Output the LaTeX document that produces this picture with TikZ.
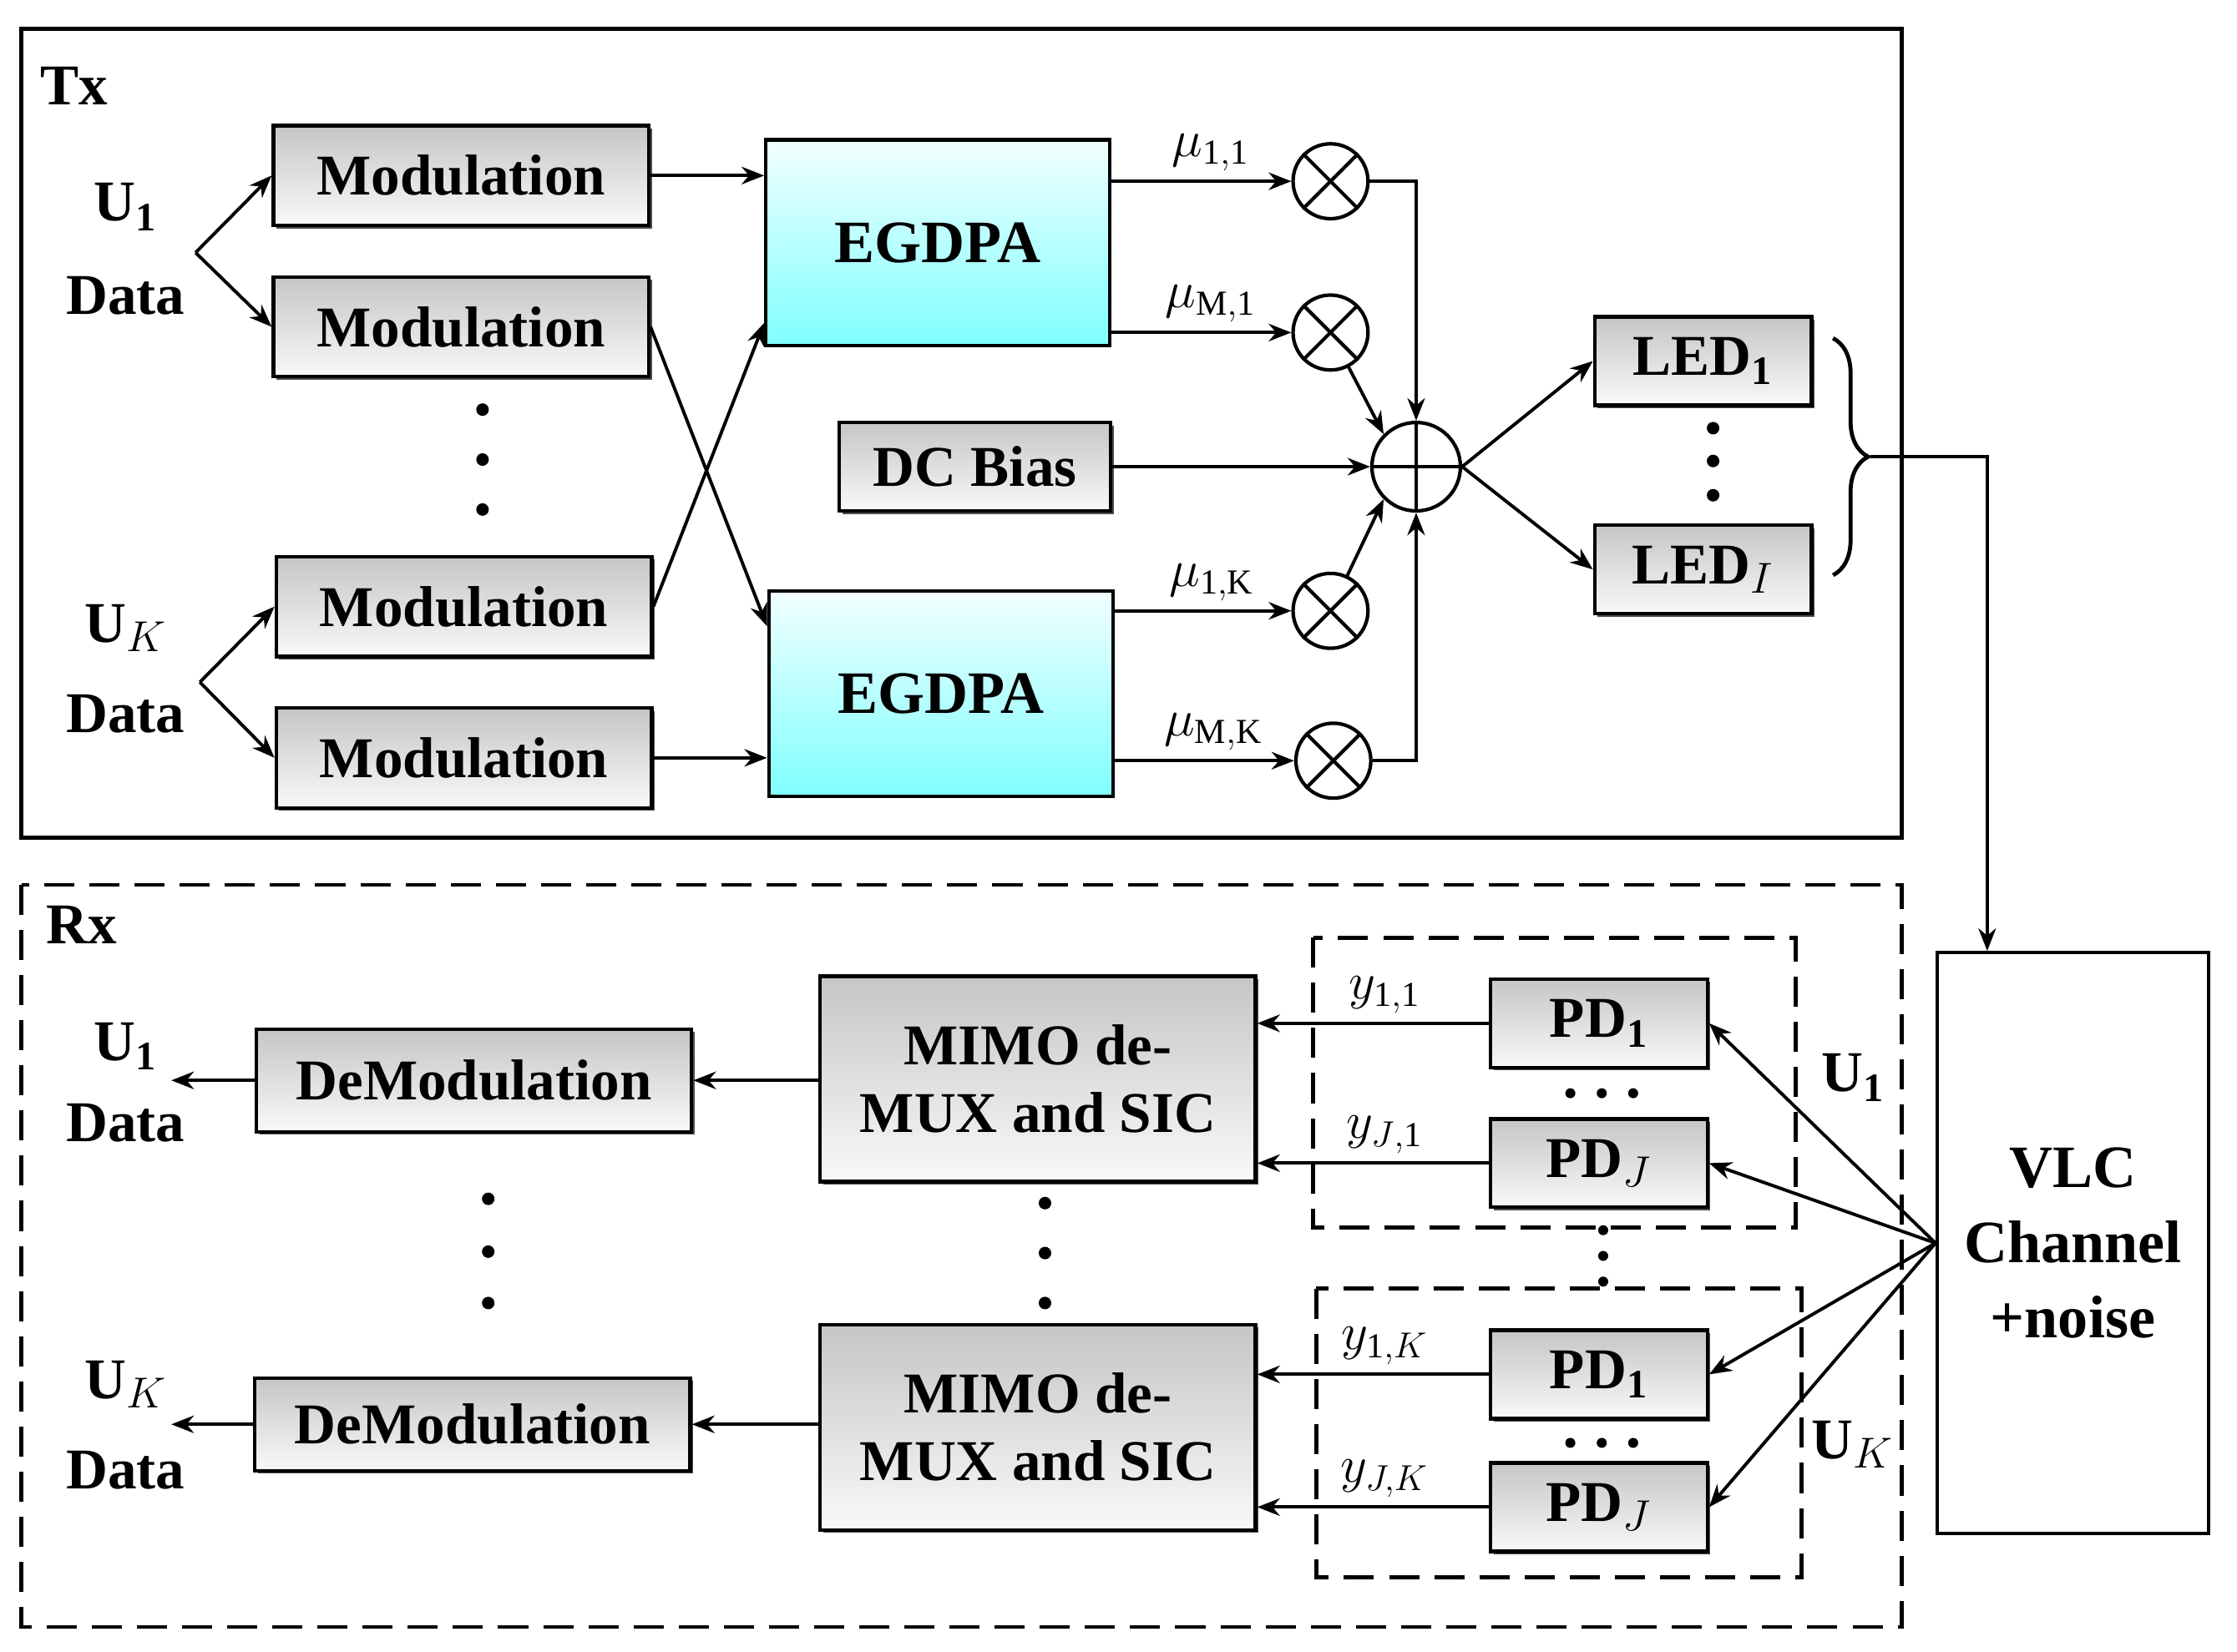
\documentclass[tikz,border=0pt]{standalone}
\usepackage{fontspec}
\setmainfont{Liberation Serif}
\usetikzlibrary{positioning,arrows.meta,shadows,decorations.pathreplacing}
\tikzset{
  blk/.style={draw, line width=1.4pt, top color=gray!45, bottom color=gray!5,
    drop shadow={shadow xshift=1.2pt, shadow yshift=-1.2pt, fill=black!70, opacity=1},
    font=\fontsize{23}{27}\selectfont\bfseries, inner sep=0pt, align=center},
  egd/.style={draw, line width=1.4pt, top color=cyan!5, bottom color=cyan!50,
    font=\fontsize{24}{28}\selectfont\bfseries, inner sep=0pt},
  mul/.style={draw, circle, line width=1.4pt, minimum size=1.05cm, inner sep=0pt},
  lbl/.style={font=\fontsize{23}{27}\selectfont\bfseries, align=center},
  sym/.style={font=\fontsize{20}{24}\selectfont},
  arr/.style={line width=1.3pt, -{Stealth[length=9pt,width=7pt]}},
  ln/.style={line width=1.3pt},
  dot/.style={circle, fill, inner sep=0pt, minimum size=5pt}
}
\begin{document}
\begin{tikzpicture}[x=0.02cm, y=-0.02cm]
\useasboundingbox (0,0) rectangle (1567,1157);
% frames
\draw[line width=1.6pt] (15,20) rectangle (1332,587);
\draw[line width=1.6pt, dash pattern=on 12pt off 6pt] (15,620) rectangle (1332,1140);
\node[lbl] at (52,60) {Tx};
\node[lbl] at (57,648) {Rx};
% transmitter inputs
\node[lbl] (u1) at (88,145) {U$_{\mathbf{1}}$};
\node[lbl] (d1) at (88,207) {Data};
\node[lbl] (uk) at (88,440) {U$_{K}$};
\node[lbl] (dk) at (88,500) {Data};
\coordinate (b1) at (137,177);
\coordinate (bk) at (140,478);
\node[blk, minimum width=5.26cm, minimum height=1.4cm] (m1) at (323,123) {Modulation};
\node[blk, minimum width=5.26cm, minimum height=1.4cm] (m2) at (323,229) {Modulation};
\node[blk, minimum width=5.26cm, minimum height=1.4cm] (m3) at (325,425) {Modulation};
\node[blk, minimum width=5.26cm, minimum height=1.4cm] (m4) at (325,531) {Modulation};
\foreach \y in {287,322,357} \node[dot] at (338,\y) {};
\draw[arr] (b1) -- (m1.west);
\draw[arr] (b1) -- (m2.west);
\draw[arr] (bk) -- (m3.west);
\draw[arr] (bk) -- (m4.west);
% EGDPA
\node[egd, minimum width=4.82cm, minimum height=2.88cm] (e1) at (657,170) {EGDPA};
\node[egd, minimum width=4.82cm, minimum height=2.88cm] (e2) at (659,486) {EGDPA};
\draw[arr] (m1.east) -- (m1.east -| e1.west);
\draw[arr] (m2.east) -- ([yshift=-0.52cm]e2.north west);
\draw[arr] (m3.east) -- ([yshift=0.34cm]e1.south west);
\draw[arr] (m4.east) -- (m4.east -| e2.west);
% multipliers
\node[mul] (c1) at (932,127) {};
\node[mul] (c2) at (932,233) {};
\node[mul] (c3) at (932,428) {};
\node[mul] (c4) at (934,533) {};
\foreach \c in {c1,c2,c3,c4}
  \draw[line width=1.4pt] (\c.north west) -- (\c.south east) (\c.north east) -- (\c.south west);
\draw[arr] (e1.east |- c1) -- node[sym, above, pos=0.55] {$\mu_{\mathrm{1,1}}$} (c1.west);
\draw[arr] (e1.east |- c2) -- node[sym, above, pos=0.55] {$\mu_{\mathrm{M,1}}$} (c2.west);
\draw[arr] (e2.east |- c3) -- node[sym, above, pos=0.55] {$\mu_{\mathrm{1,K}}$} (c3.west);
\draw[arr] (e2.east |- c4) -- node[sym, above, pos=0.55] {$\mu_{\mathrm{M,K}}$} (c4.west);
% adder
\node[mul, minimum size=1.24cm] (s) at (992,327) {};
\draw[line width=1.4pt] (s.north) -- (s.south) (s.west) -- (s.east);
\draw[arr] (c1.east) -| (s.north);
\draw[arr] (c4.east) -| (s.south);
\draw[arr] (c2) -- (s.north west);
\draw[arr] (c3) -- (s.south west);
\node[blk, minimum width=3.8cm, minimum height=1.24cm] (dc) at (683,327) {DC Bias};
\draw[arr] (dc.east) -- (s.west);
% LEDs
\node[blk, minimum width=3.04cm, minimum height=1.24cm] (led1) at (1193,253) {LED$_{\mathbf{1}}$};
\node[blk, minimum width=3.04cm, minimum height=1.24cm] (ledi) at (1193,399) {LED$_{I}$};
\foreach \y in {300,323,347} \node[dot] at (1200,\y) {};
\draw[arr] (s.east) -- (led1.west);
\draw[arr] (s.east) -- (ledi.west);
\draw[line width=1.6pt, decorate, decoration={brace, amplitude=14pt}] (1284,237) -- (1284,403);
\coordinate (bt) at (1310,320);
% channel
\node[draw, line width=1.4pt, minimum width=3.8cm, minimum height=8.14cm, lbl,
  font=\fontsize{24}{30}\selectfont\bfseries] (vlc) at (1452,871) {VLC\\Channel\\+noise};
\draw[arr] (bt) -| (vlc.north -| 1392,0);
% receiver
\draw[line width=1.6pt, dash pattern=on 12pt off 6pt] (920,657) rectangle (1258,860);
\draw[line width=1.6pt, dash pattern=on 12pt off 6pt] (922,903) rectangle (1262,1105);
\node[blk, minimum width=3.04cm, minimum height=1.24cm] (pa1) at (1120,717) {PD$_{\mathbf{1}}$};
\node[blk, minimum width=3.04cm, minimum height=1.24cm] (paj) at (1120,815) {PD$_{J}$};
\node[blk, minimum width=3.04cm, minimum height=1.24cm] (pb1) at (1120,963) {PD$_{\mathbf{1}}$};
\node[blk, minimum width=3.04cm, minimum height=1.24cm] (pbj) at (1120,1056) {PD$_{J}$};
\foreach \x in {1100,1122,1144} {\node[dot, minimum size=4pt] at (\x,766) {}; \node[dot, minimum size=4pt] at (\x,1011) {};}
\foreach \y in {862,880,898} \node[dot, minimum size=4pt] at (1123,\y) {};
\node[blk, minimum width=6.1cm, minimum height=2.88cm] (x1) at (727,756) {MIMO de-\\MUX and SIC};
\node[blk, minimum width=6.1cm, minimum height=2.88cm] (x2) at (727,1000) {MIMO de-\\MUX and SIC};
\foreach \y in {843,878,913} \node[dot] at (732,\y) {};
\draw[arr] (pa1.west) -- node[sym, above, pos=0.45] {$y_{\mathrm{1,1}}$} (pa1.west -| x1.east);
\draw[arr] (paj.west) -- node[sym, above, pos=0.45] {$y_{J\mathrm{,1}}$} (paj.west -| x1.east);
\draw[arr] (pb1.west) -- node[sym, above, pos=0.45] {$y_{\mathrm{1,}K}$} (pb1.west -| x2.east);
\draw[arr] (pbj.west) -- node[sym, above, pos=0.45] {$y_{J,K}$} (pbj.west -| x2.east);
\foreach \p in {pa1,paj,pb1,pbj} \draw[arr] (vlc.west) -- (\p.east);
\node[lbl] at (1298,755) {U$_{\mathbf{1}}$};
\node[lbl] at (1298,1012) {U$_{K}$};
\node[blk, minimum width=6.1cm, minimum height=1.44cm] (dm1) at (332,757) {DeModulation};
\node[blk, minimum width=6.1cm, minimum height=1.3cm] (dm2) at (331,998) {DeModulation};
\foreach \y in {840,877,913} \node[dot] at (342,\y) {};
\draw[arr] (x1.west |- dm1) -- (dm1.east);
\draw[arr] (x2.west |- dm2) -- (dm2.east);
\node[lbl] at (88,733) {U$_{\mathbf{1}}$};
\node[lbl] at (88,787) {Data};
\node[lbl] at (88,970) {U$_{K}$};
\node[lbl] at (88,1030) {Data};
\coordinate (o1) at (120,757);
\coordinate (o2) at (120,998);
\draw[arr] (dm1.west) -- (o1);
\draw[arr] (dm2.west) -- (o2);
\end{tikzpicture}
\end{document}
